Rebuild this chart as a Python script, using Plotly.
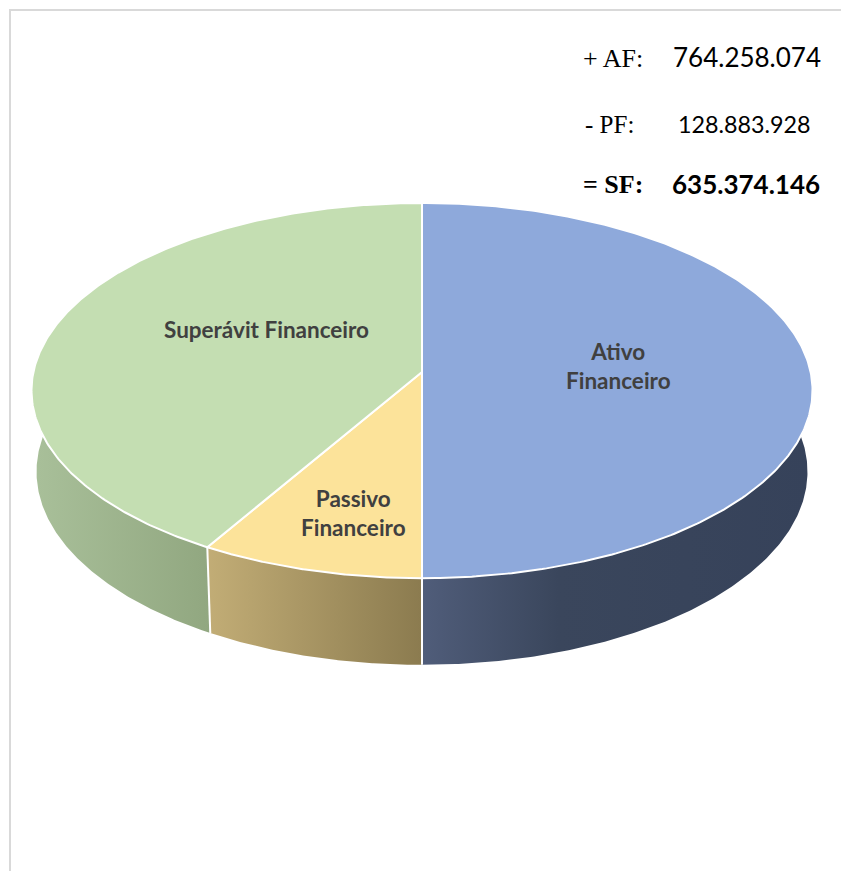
import numpy as np
import plotly.graph_objects as go

# ---------------- data ----------------
categories = ["Ativo Financeiro", "Passivo Financeiro", "Superávit Financeiro"]
values = [764258074, 128883928, 635374146]
label_text = ["Ativo<br>Financeiro", "Passivo<br>Financeiro", "Superávit Financeiro"]
label_pos = [(618, 366), (353, 513), (266, 329)]
top_colors = ["#8EA9DB", "#FCE39A", "#C4DEB2"]
side_colors = [
    [[0, "#505D7A"], [0.35, "#3A465C"], [1, "#36425A"]],
    [[0, "#C2AD76"], [1, "#8B7B4F"]],
    [[0, "#A9C09A"], [1, "#91A780"]],
]
summary_signs = ["+ AF:", "- PF:", "= SF:"]
summary_values = [764258074, 128883928, 635374146]
summary_bold = [False, False, True]

# ---------------- geometry (pixel space) ----------------
W, H = 841, 871
CX, CY = 422, 372
R = 388.6
SIN_A, COS_A = 0.478, 0.878
DIST = 8.87
THICK = 0.24


def project(phi, y):
    X = np.sin(phi)
    Wd = np.cos(phi)
    yv = y * COS_A + Wd * SIN_A
    zv = Wd * COS_A - y * SIN_A
    k = DIST / (DIST + zv)
    return CX + R * X * k, CY - R * yv * k


vals = np.array(values, dtype=float)
frac = vals / vals.sum()
bounds = np.concatenate([[0], np.cumsum(frac)]) * 2 * np.pi

fig = go.Figure()

# side walls
for i in range(len(values)):
    a, b = bounds[i], bounds[i + 1]
    lo = max(a, np.pi / 2 - 0.15)
    hi = min(b, 3 * np.pi / 2 + 0.15)
    if lo >= hi:
        continue
    phis = np.linspace(lo, hi, 200)
    tx, ty = project(phis, 0.0)
    bx, by = project(phis[::-1], -THICK)
    xs = np.concatenate([tx, bx, tx[:1]])
    ys = np.concatenate([ty, by, ty[:1]])
    fig.add_trace(go.Scatter(
        x=xs, y=ys, mode="lines", fill="toself",
        line=dict(width=0, color="rgba(0,0,0,0)"),
        fillgradient=dict(type="horizontal", colorscale=side_colors[i],
                          start=float(min(tx.min(), bx.min())) if i != 0 else float(CX),
                          stop=float(max(tx.max(), bx.max()))),
        hoverinfo="skip", showlegend=False,
    ))

# boundary lines on walls
for ang in bounds:
    if np.pi / 2 < ang < 3 * np.pi / 2:
        x0, y0 = project(ang, 0.0)
        x1, y1 = project(ang, -THICK)
        fig.add_trace(go.Scatter(x=[x0, x1], y=[y0, y1], mode="lines",
                                 line=dict(color="white", width=2),
                                 hoverinfo="skip", showlegend=False))

# top faces
for i in range(len(values)):
    a, b = bounds[i], bounds[i + 1]
    phis = np.linspace(a, b, 300)
    px, py = project(phis, 0.0)
    xs = np.concatenate([[CX], px, [CX]])
    ys = np.concatenate([[CY], py, [CY]])
    fig.add_trace(go.Scatter(
        x=xs, y=ys, mode="lines", fill="toself", fillcolor=top_colors[i],
        line=dict(color="white", width=2),
        hoverinfo="skip", showlegend=False, name=categories[i],
    ))

# slice labels
for txt, (lx, ly) in zip(label_text, label_pos):
    fig.add_annotation(x=lx, y=ly, text=f"<b>{txt}</b>", showarrow=False,
                       xanchor="center", yanchor="middle",
                       font=dict(family="Lato", size=22.5, color="#404040"))

# summary text
sign_pos = [(581, 58, 26), (583, 124, 25), (581, 184, 26)]
val_pos = [(671, 57, 26), (676, 124, 23.3), (670, 184, 26)]
for s, v, bold, (sx, sy, ss), (vx, vy, vs) in zip(summary_signs, summary_values, summary_bold, sign_pos, val_pos):
    vt = f"{v:,}".replace(",", ".")
    if bold:
        s = f"<b>{s}</b>"
        vt = f"<b>{vt}</b>"
    fig.add_annotation(x=sx, y=sy, text=s, showarrow=False, xanchor="left", yanchor="middle",
                       font=dict(family="Liberation Serif", size=ss, color="black"))
    fig.add_annotation(x=vx, y=vy, text=vt, showarrow=False, xanchor="left", yanchor="middle",
                       font=dict(family="Lato", size=vs, color="black"))

# frame
fig.add_shape(type="rect", x0=10, y0=10, x1=W + 60, y1=H + 60,
              line=dict(color="#D9D9D9", width=2), fillcolor="rgba(0,0,0,0)")

fig.update_layout(
    width=W, height=H, margin=dict(l=0, r=0, t=0, b=0),
    paper_bgcolor="white", plot_bgcolor="white",
    xaxis=dict(range=[0, W], visible=False, fixedrange=True),
    yaxis=dict(range=[H, 0], visible=False, fixedrange=True),
    showlegend=False,
)

fig.write_html("out.html")
